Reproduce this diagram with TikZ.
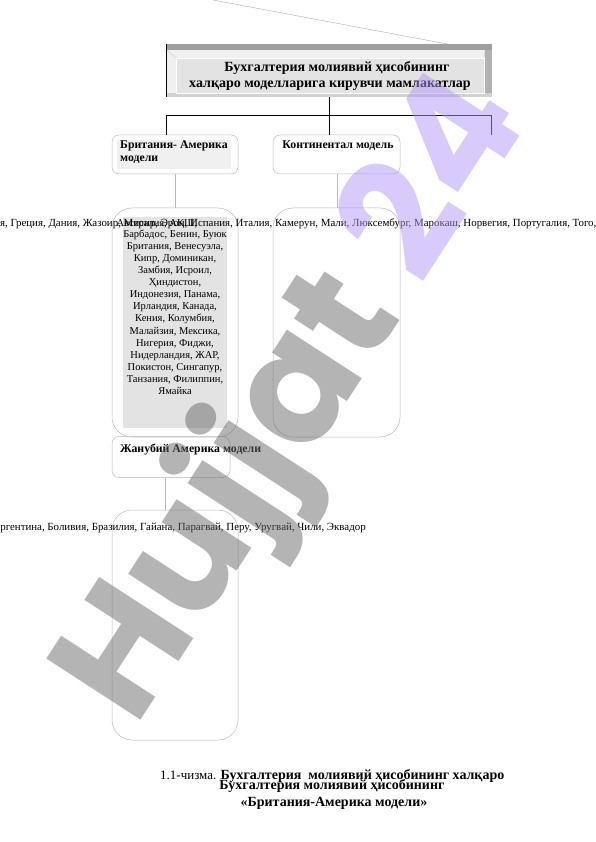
\documentclass[tikz,border=0pt]{standalone}
\usepackage{fontspec}
\setmainfont{Liberation Serif}
\newfontfamily\wmfont{Poppins}
\definecolor{boxline}{RGB}{185,185,185}
\definecolor{fillgray}{RGB}{227,227,227}
\definecolor{wmgray}{RGB}{105,105,105}
\definecolor{wmpurple}{RGB}{180,150,250}
\tikzset{
  smallbox/.style={draw=boxline, line width=0.5pt, rounded corners=7pt, inner sep=0pt},
  bigbox/.style={draw=boxline, line width=0.5pt, rounded corners=20pt, inner sep=0pt, minimum width=126pt},
  conn/.style={draw=boxline, line width=0.6pt},
  bracket/.style={draw=black, line width=0.8pt},
  body/.style={font=\fontsize{10.5}{12.1}\selectfont, inner sep=0pt},
  longline/.style={font=\fontsize{10.9}{12.1}\selectfont, inner sep=0pt},
  lbl/.style={font=\bfseries\fontsize{11.8}{13}\selectfont, inner sep=0pt, anchor=north west, align=left},
  capbold/.style={font=\bfseries\fontsize{14}{16}\selectfont, inner sep=0pt},
}
\begin{document}
\begin{tikzpicture}[x=1pt,y=-1pt]
\useasboundingbox (0,0) rectangle (596,842);
% thin diagonal line at top
\draw[gray!55, line width=0.5pt] (213,0) -- (490,52);
% title frame
\node[minimum width=326pt, minimum height=53pt, inner sep=0pt] (title) at (329,70.5) {};
\fill[gray!12] (166,44) rectangle (492,97);
\fill[gray!75] (166,44) rectangle (492,50);
\fill[gray!60] (485,50) rectangle (492,97);
\fill[gray!35] (166,93) rectangle (492,97);
\fill[fillgray] (176,58) rectangle (484,93);
\draw[white, line width=0.8pt] (176,58) rectangle (484,93);
\draw[gray!40, line width=0.4pt] (167,50) -- (176,58);
\draw[gray!40, line width=0.4pt] (484,58) -- (485,50);
\draw[black, line width=0.8pt] (166,44) -- (166,97);
\node[font=\bfseries\fontsize{14}{16}\selectfont, align=center, inner sep=0pt] (titletext) at (330,76)
  {\hspace*{14pt}Бухгалтерия молиявий ҳисобининг\\халқаро моделларига кирувчи мамлакатлар};
% model boxes
\node[smallbox, minimum width=126pt, minimum height=39pt] (ba) at (175,154.5) {};
\node[smallbox, minimum width=127pt, minimum height=39pt] (cm) at (336.5,154.5) {};
\fill[gray!12] (117,140) rectangle (231,169);
\node[lbl] (batext) at (120,141) {Британия- Америка\\модели};
\node[lbl, anchor=north] (cmtext) at (338,141) {Континентал модель};
% bracket
\coordinate (hl) at (166,115);
\coordinate (hr) at (491,115);
\draw[bracket] (title.south) -- (title.south |- cm.north);
\draw[bracket] (hl) -- (hr);
\draw[bracket] (hl) -- (hl |- ba.north);
\draw[bracket] (hr) -- (hr |- cm.north);
% big boxes
\node[bigbox, minimum height=229pt] (bal) at (175,322.5) {};
\node[bigbox, minimum width=127pt, minimum height=229pt] (cml) at (336.5,322.5) {};
\draw[conn] (ba.south) -- (bal.north);
\draw[conn] ([xshift=1pt]cm.south) -- ([xshift=1pt]cml.north);
\fill[fillgray] (123,217) rectangle (227,428);
% overflowing continental list
\node[longline, anchor=base west] (cmlist) at (-5,226)
  {ея, Греция, Дания, Жазоир, Мисир, Эрон, Испания, Италия, Камерун, Мали, Люксембург, Марокаш, Норвегия, Португалия, Того, Франция};
\node[body, anchor=base] (balist1) at (157,226) {Австралия, АҚШ,};
\node[body, align=center, anchor=north] (balist) at (175,229.5)
  {Барбадос, Бенин, Буюк\\Британия, Венесуэла,\\Кипр, Доминикан,\\Замбия, Исроил,\\Ҳиндистон,\\Индонезия, Панама,\\Ирландия, Канада,\\Кения, Колумбия,\\Малайзия, Мексика,\\Нигерия, Фиджи,\\Нидерландия, ЖАР,\\Покистон, Сингапур,\\Танзания, Филиппин,\\Ямайка};
% South America
\node[smallbox, minimum width=118pt, minimum height=41pt] (sa) at (171,457) {};
\node[lbl] (satext) at (120,444) {Жанубий Америка модели};
\node[bigbox, minimum height=230pt] (sal) at (175,625) {};
\draw[conn] ([xshift=-6pt]sa.south) -- ([xshift=-6pt]sa.south |- sal.north);
\node[longline, anchor=base east] (salist) at (366,530)
  {Аргентина, Боливия, Бразилия, Гайана, Парагвай, Перу, Уругвай, Чили, Эквадор};
% caption
\node[font=\fontsize{13}{15}\selectfont, anchor=base west, inner sep=0pt] (cap1) at (160,779)
  {1.1-чизма. {\bfseries\fontsize{14}{16}\selectfont Бухгалтерия\ \ молиявий ҳисобининг халқаро}};
\node[capbold, anchor=base] (cap2) at (332,789)
  {Бухгалтерия молиявий ҳисобининг};
\node[capbold, anchor=base] (cap3) at (334,806)
  {«Британия-Америка модели»};
% watermark
\node[rotate=57, anchor=base west, inner sep=0pt, text opacity=0.5,
      font=\wmfont\bfseries\fontsize{160}{160}\selectfont] (wm) at (135,729)
  {\textcolor{wmgray}{Hujjat} \textcolor{wmpurple}{24}};
\end{tikzpicture}
\end{document}
